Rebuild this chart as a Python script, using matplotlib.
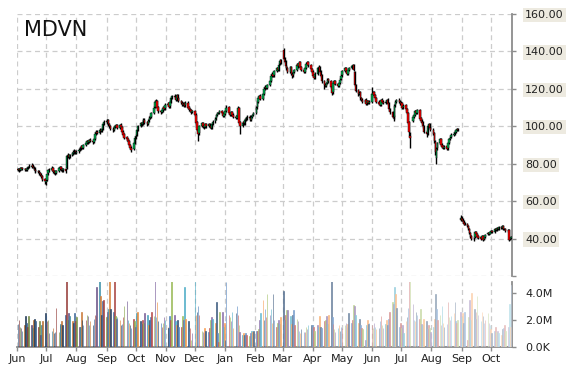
import matplotlib
matplotlib.use('Agg')
import matplotlib.pyplot as plt
import matplotlib.dates as mdates
from matplotlib.colors import to_rgb
import numpy as np
import pandas as pd

plt.rcParams['font.family'] = ['DejaVu Sans']

# ------------------------------------------------------------
# Daily OHLC (USD) and volume (millions), Jun 2014 - Oct 2015
# one line per month
# ------------------------------------------------------------
opens = [
    77.0, 76.4, 77.2, 76.9, 77.6, 77.3, 77.1, 76.7, 77.6, 78.2, 78.4, 79.1, 78.0, 77.4, 76.6, 76.2, 75.6, 75.2, 74.1, 73.2, 71.8,
    70.2, 71.2, 74.8, 76.8, 76.4, 77.6, 76.2, 75.8, 75.2, 76.2, 77.6, 78.2, 77.2, 76.4, 77.2, 77.5, 84.2, 84.6, 83.6, 84.6, 85.6, 86.2, 86.8,
    85.8, 86.6, 87.8, 88.2, 89.2, 88.6, 90.2, 91.2, 92.2, 91.6, 92.8, 92.2, 91.6, 93.2, 96.2, 97.2, 96.6, 98.2, 97.6, 98.8, 101.2,
    102.8, 102.2, 103.2, 101.2, 100.2, 98.8, 98.2, 99.6, 100.2, 100.6, 99.2, 100.8, 99.6, 97.2, 95.8, 94.2, 93.2, 92.2, 90.2, 88.6, 87.8, 91.2,
    94.2, 95.2, 98.2, 100.2, 101.6, 101.2, 102.6, 103.6, 102.2, 101.2, 103.2, 104.6, 105.2, 107.2, 110.2, 113.2, 113.6, 110.2, 108.2, 107.6, 108.6, 110.2, 109.6,
    111.6, 112.2, 110.6, 113.2, 115.2, 116.2, 115.6, 114.2, 116.6, 115.2, 113.6, 112.6, 111.6, 112.2, 111.2, 112.6, 110.2, 109.2, 108.6, 107.6,
    108.2, 106.2, 102.2, 98.2, 96.2, 100.2, 101.6, 100.2, 99.6, 101.2, 100.2, 101.2, 100.2, 99.2, 101.2, 102.6, 104.2, 106.2, 107.2, 107.2, 108.2, 107.2, 105.6,
    106.6, 108.2, 110.2, 107.2, 106.2, 107.6, 106.2, 105.2, 104.6, 105.6, 109.8, 102.2, 100.2, 102.2, 101.6, 103.6, 104.2, 105.2, 104.6, 103.6, 105.2, 106.2,
    107.2, 110.2, 113.2, 115.2, 116.2, 114.6, 117.2, 120.2, 121.2, 120.6, 122.2, 124.2, 127.2, 128.2, 127.2, 129.6, 131.2, 130.2, 133.2, 135.2,
    140.5, 136.2, 134.6, 132.2, 131.2, 129.2, 131.6, 128.2, 127.2, 129.2, 130.2, 133.2, 132.2, 134.2, 131.6, 130.2, 129.2, 131.2, 133.6, 134.2, 132.6, 130.6,
    129.2, 127.2, 126.2, 128.2, 131.2, 131.6, 129.2, 127.2, 124.2, 122.2, 121.6, 123.2, 125.2, 124.2, 121.2, 118.2, 123.2, 124.2, 122.6, 121.6, 123.2, 125.2,
    127.2, 129.6, 131.2, 129.6, 128.2, 130.2, 131.2, 132.2, 132.6, 129.0, 121.8, 119.2, 117.2, 118.2, 115.2, 114.2, 113.2, 114.2, 112.2, 113.6, 112.6,
    113.2, 117.2, 118.2, 116.6, 115.2, 113.2, 112.2, 111.6, 114.2, 113.2, 112.6, 113.2, 114.2, 112.2, 109.2, 107.6, 105.2, 104.8, 111.2, 113.2, 114.2, 113.2,
    112.2, 112.2, 110.2, 111.2, 109.2, 107.2, 102.2, 95.0, 103.0, 105.2, 106.2, 108.2, 107.2, 108.6, 104.2, 103.2, 102.2, 100.2, 97.2, 96.2, 100.2, 101.2, 99.2,
    98.2, 96.2, 91.8, 83.0, 88.2, 91.2, 93.2, 90.2, 89.2, 88.6, 89.2, 88.2, 91.2, 93.2, 94.2, 95.6, 96.2, 97.2, 98.2, 98.6, 50.0,
    51.2, 50.2, 49.6, 48.2, 47.6, 46.6, 45.2, 43.2, 41.2, 40.1, 40.6, 43.6, 42.6, 41.2, 40.6, 40.1, 41.6, 39.6, 40.6, 42.2, 43.2, 42.6,
    43.6, 44.2, 43.6, 45.2, 44.6, 45.6, 45.2, 46.2, 45.6, 46.6, 45.2, 45.1, 44.1, 44.6, 39.6, 40.1,
]
highs = [
    77.8, 77.6, 78.0, 78.3, 78.1, 77.9, 77.6, 78.2, 78.9, 79.6, 80.5, 79.8, 78.7, 78.0, 77.2, 76.9, 76.4, 75.8, 74.8, 73.9, 72.4,
    71.8, 75.2, 77.4, 77.6, 78.8, 78.1, 76.9, 76.5, 76.8, 78.3, 79.0, 78.7, 77.8, 77.9, 77.7, 84.9, 85.6, 85.2, 85.4, 86.4, 87.1, 87.6, 87.5,
    87.4, 88.3, 89.0, 89.8, 89.9, 90.8, 91.9, 92.9, 92.8, 93.4, 93.6, 92.9, 93.8, 96.9, 97.9, 97.9, 98.9, 98.8, 99.4, 101.8, 103.6,
    103.8, 104.1, 103.9, 102.0, 100.9, 99.6, 100.3, 100.9, 101.4, 101.3, 101.4, 101.6, 100.2, 97.9, 96.5, 94.9, 93.9, 92.8, 90.8, 89.3, 91.8, 94.9,
    95.9, 98.8, 100.9, 102.3, 102.4, 103.3, 104.4, 104.3, 102.9, 103.8, 105.3, 105.9, 107.8, 110.9, 113.9, 114.6, 114.3, 110.8, 108.9, 109.3, 110.8, 110.9, 112.3,
    113.0, 112.9, 113.8, 115.9, 116.9, 117.0, 116.3, 117.3, 117.4, 115.9, 114.3, 113.3, 112.8, 112.9, 113.3, 113.3, 110.9, 109.9, 109.3, 108.8,
    108.9, 106.9, 102.9, 98.9, 100.8, 102.3, 102.3, 100.9, 101.8, 101.9, 101.8, 101.9, 100.9, 101.8, 103.3, 104.8, 106.8, 107.8, 107.9, 108.8, 108.9, 107.9, 107.3,
    108.8, 111.3, 110.9, 107.9, 108.3, 108.3, 106.9, 105.9, 106.3, 110.8, 110.5, 102.9, 102.8, 102.9, 104.3, 104.8, 105.8, 105.9, 105.3, 105.8, 106.8, 107.8,
    110.8, 113.8, 115.9, 116.9, 117.0, 117.8, 120.9, 121.9, 121.9, 122.8, 124.9, 127.9, 128.9, 128.9, 130.3, 131.9, 131.9, 133.9, 135.9, 136.1,
    142.0, 137.0, 135.4, 133.0, 131.9, 132.3, 132.3, 128.9, 129.8, 130.8, 133.8, 133.9, 134.8, 134.9, 132.3, 130.9, 131.8, 134.3, 134.8, 134.9, 133.3, 131.3,
    129.9, 127.9, 128.8, 131.8, 132.5, 132.3, 129.9, 127.9, 124.9, 122.9, 123.8, 125.8, 125.9, 124.9, 121.9, 123.8, 124.8, 124.9, 123.3, 123.8, 125.8, 127.8,
    130.3, 131.8, 131.9, 130.3, 130.8, 131.8, 132.8, 133.3, 133.3, 129.8, 122.5, 119.9, 118.8, 118.9, 115.9, 114.9, 114.8, 114.9, 114.3, 114.3, 113.8,
    121.0, 118.9, 118.9, 117.3, 115.9, 113.9, 112.9, 114.8, 114.9, 113.9, 113.8, 114.8, 114.9, 112.9, 109.9, 108.3, 105.9, 111.8, 113.8, 114.8, 114.9, 113.9,
    113.3, 112.9, 111.8, 111.9, 109.9, 107.9, 102.9, 97.0, 105.8, 106.8, 108.8, 108.9, 109.3, 109.3, 104.9, 103.9, 102.9, 100.9, 97.9, 100.8, 101.8, 101.9, 99.9,
    98.9, 96.9, 92.5, 88.8, 91.8, 93.8, 93.9, 90.9, 89.9, 89.8, 89.9, 91.8, 93.8, 94.8, 96.3, 96.8, 97.8, 98.8, 99.3, 99.3, 52.8,
    52.0, 50.8, 50.1, 48.7, 48.1, 47.1, 45.7, 43.7, 41.7, 41.0, 44.3, 44.0, 43.1, 41.7, 41.1, 42.0, 42.1, 41.0, 42.5, 43.5, 43.7, 44.0,
    44.5, 44.7, 45.5, 45.7, 46.0, 46.1, 46.5, 46.7, 47.0, 47.1, 45.7, 45.6, 45.0, 45.1, 40.5, 41.5,
]
lows = [
    75.9, 75.8, 76.2, 76.4, 76.6, 76.3, 75.9, 76.2, 77.0, 77.6, 77.9, 77.5, 76.8, 75.8, 75.1, 74.8, 74.2, 73.3, 72.1, 70.6, 69.2,
    68.8, 70.6, 74.1, 75.8, 75.9, 75.2, 74.6, 73.9, 74.6, 75.7, 76.8, 76.2, 75.4, 75.8, 75.1, 77.0, 83.2, 82.7, 83.0, 84.0, 84.9, 85.4, 85.1,
    85.1, 85.9, 87.0, 87.5, 87.7, 88.0, 89.6, 90.5, 90.8, 91.0, 91.4, 90.8, 91.0, 92.6, 95.5, 95.8, 96.0, 96.8, 97.0, 98.2, 100.6,
    101.7, 101.4, 100.3, 99.2, 97.8, 97.2, 97.6, 98.9, 99.5, 98.3, 98.6, 98.8, 96.3, 94.8, 93.2, 92.2, 91.2, 89.3, 87.6, 86.5, 87.1, 90.5,
    93.3, 94.6, 97.5, 99.5, 100.3, 100.5, 101.9, 101.3, 100.2, 100.6, 102.5, 103.9, 104.6, 106.5, 109.6, 112.4, 109.2, 107.2, 106.8, 106.9, 107.9, 108.8, 108.9,
    110.8, 109.7, 109.9, 112.5, 114.5, 114.8, 113.3, 113.5, 114.2, 112.8, 111.8, 110.8, 110.9, 110.3, 110.5, 109.2, 108.3, 107.7, 106.8, 106.9,
    105.3, 101.3, 97.3, 92.0, 95.5, 99.5, 99.3, 98.8, 98.9, 99.3, 99.5, 99.3, 98.3, 98.5, 100.5, 101.9, 103.5, 105.5, 106.3, 106.5, 106.3, 104.8, 104.9,
    105.9, 107.5, 106.3, 105.3, 105.5, 105.3, 104.3, 103.8, 103.9, 105.0, 101.3, 96.0, 99.5, 100.8, 100.9, 102.9, 103.5, 103.8, 102.8, 102.9, 104.5, 105.5,
    106.5, 109.5, 112.5, 114.5, 113.8, 113.9, 116.5, 119.5, 119.8, 119.9, 121.5, 123.5, 126.5, 126.3, 126.5, 128.9, 129.3, 129.5, 132.5, 133.3,
    135.3, 133.8, 131.3, 130.3, 128.3, 128.5, 127.3, 126.0, 126.5, 128.5, 129.5, 131.3, 131.5, 130.8, 129.3, 128.3, 128.5, 130.5, 133.0, 131.8, 129.8, 128.3,
    126.3, 125.3, 125.5, 127.5, 130.5, 128.3, 126.3, 123.3, 120.0, 120.8, 120.9, 122.5, 123.3, 120.3, 116.5, 117.5, 122.5, 121.8, 120.8, 120.9, 122.5, 124.5,
    126.5, 128.9, 128.8, 127.3, 127.5, 129.5, 130.5, 131.5, 129.3, 121.3, 118.3, 116.3, 116.5, 114.3, 113.3, 112.3, 112.5, 111.3, 111.5, 111.8, 111.9,
    112.5, 116.5, 115.8, 114.3, 112.3, 111.3, 110.8, 110.9, 112.3, 111.8, 111.9, 112.5, 111.3, 108.3, 106.8, 104.3, 103.0, 104.1, 110.5, 112.5, 112.3, 111.3,
    111.3, 109.3, 109.5, 108.3, 106.3, 101.3, 95.0, 88.5, 102.3, 104.5, 105.5, 106.3, 106.5, 103.3, 102.3, 101.3, 99.3, 96.3, 94.5, 95.5, 99.5, 98.3, 97.3,
    95.3, 91.3, 84.5, 80.0, 87.5, 90.5, 89.3, 88.3, 87.8, 88.0, 87.3, 87.5, 90.5, 92.5, 93.5, 95.0, 95.5, 96.5, 97.5, 97.3, 49.5,
    49.5, 49.0, 47.5, 47.0, 46.0, 44.5, 42.5, 40.5, 39.0, 38.5, 40.2, 42.0, 40.5, 40.0, 39.5, 39.7, 38.5, 39.2, 40.2, 41.8, 42.0, 42.2,
    43.1, 43.0, 43.1, 44.0, 44.1, 44.5, 44.7, 45.0, 45.1, 44.5, 44.5, 43.5, 43.6, 38.5, 39.0, 39.6,
]
closes = [
    76.5, 77.0, 76.8, 77.5, 77.2, 77.0, 76.6, 77.4, 78.0, 78.5, 79.0, 78.2, 77.5, 76.5, 76.0, 75.5, 75.0, 74.0, 73.0, 71.5, 70.5,
    71.0, 74.5, 76.5, 76.5, 77.5, 76.0, 75.5, 75.0, 76.0, 77.5, 78.0, 77.0, 76.5, 77.0, 76.0, 84.0, 84.5, 83.5, 84.5, 85.5, 86.0, 86.5, 86.0,
    86.5, 87.5, 88.0, 89.0, 88.5, 90.0, 91.0, 92.0, 91.5, 92.5, 92.0, 91.5, 93.0, 96.0, 97.0, 96.5, 98.0, 97.5, 98.5, 101.0, 102.5,
    102.5, 103.0, 101.0, 100.0, 98.5, 98.0, 99.5, 100.0, 100.5, 99.0, 100.5, 99.5, 97.0, 95.5, 94.0, 93.0, 92.0, 90.0, 88.5, 87.5, 91.0, 94.0,
    95.0, 98.0, 100.0, 101.5, 101.0, 102.5, 103.5, 102.0, 101.0, 103.0, 104.5, 105.0, 107.0, 110.0, 113.0, 113.5, 110.0, 108.0, 107.5, 108.5, 110.0, 109.5, 111.5,
    112.0, 110.5, 113.0, 115.0, 116.0, 115.5, 114.0, 116.5, 115.0, 113.5, 112.5, 111.5, 112.0, 111.0, 112.5, 110.0, 109.0, 108.5, 107.5, 108.0,
    106.0, 102.0, 98.0, 96.0, 100.0, 101.5, 100.0, 99.5, 101.0, 100.0, 101.0, 100.0, 99.0, 101.0, 102.5, 104.0, 106.0, 107.0, 107.0, 108.0, 107.0, 105.5, 106.5,
    108.0, 110.0, 107.0, 106.0, 107.5, 106.0, 105.0, 104.5, 105.5, 110.0, 102.0, 100.0, 102.0, 101.5, 103.5, 104.0, 105.0, 104.5, 103.5, 105.0, 106.0, 107.0,
    110.0, 113.0, 115.0, 116.0, 114.5, 117.0, 120.0, 121.0, 120.5, 122.0, 124.0, 127.0, 128.0, 127.0, 129.5, 131.0, 130.0, 133.0, 135.0, 134.0,
    136.0, 134.5, 132.0, 131.0, 129.0, 131.5, 128.0, 127.0, 129.0, 130.0, 133.0, 132.0, 134.0, 131.5, 130.0, 129.0, 131.0, 133.5, 134.0, 132.5, 130.5, 129.0,
    127.0, 126.0, 128.0, 131.0, 131.5, 129.0, 127.0, 124.0, 122.0, 121.5, 123.0, 125.0, 124.0, 121.0, 118.0, 123.0, 124.0, 122.5, 121.5, 123.0, 125.0, 127.0,
    129.5, 131.0, 129.5, 128.0, 130.0, 131.0, 132.0, 132.5, 130.0, 122.0, 119.0, 117.0, 118.0, 115.0, 114.0, 113.0, 114.0, 112.0, 113.5, 112.5, 113.0,
    117.0, 118.0, 116.5, 115.0, 113.0, 112.0, 111.5, 114.0, 113.0, 112.5, 113.0, 114.0, 112.0, 109.0, 107.5, 105.0, 104.5, 111.0, 113.0, 114.0, 113.0, 112.0,
    112.0, 110.0, 111.0, 109.0, 107.0, 102.0, 97.0, 93.5, 105.0, 106.0, 108.0, 107.0, 108.5, 104.0, 103.0, 102.0, 100.0, 97.0, 96.0, 100.0, 101.0, 99.0, 98.0,
    96.0, 92.0, 86.0, 88.0, 91.0, 93.0, 90.0, 89.0, 88.5, 89.0, 88.0, 91.0, 93.0, 94.0, 95.5, 96.0, 97.0, 98.0, 98.5, 98.0, 51.0,
    50.0, 49.5, 48.0, 47.5, 46.5, 45.0, 43.0, 41.0, 40.0, 40.5, 43.5, 42.5, 41.0, 40.5, 40.0, 41.5, 39.5, 40.5, 42.0, 43.0, 42.5, 43.5,
    44.0, 43.5, 45.0, 44.5, 45.5, 45.0, 46.0, 45.5, 46.5, 45.0, 45.0, 44.0, 44.5, 39.5, 40.0, 41.0,
]
volumes = [
    1.7, 2.0, 1.5, 1.4, 1.2, 1.6, 2.3, 1.8, 1.5, 2.3, 1.6, 1.4, 2.0, 2.1, 1.9, 1.5, 1.9, 0.9, 1.6, 1.9, 2.5,
    2.4, 1.9, 2.0, 1.0, 1.2, 1.4, 1.0, 1.1, 2.9, 1.1, 1.6, 1.7, 1.9, 1.6, 2.4, 5.5, 2.0, 2.5, 2.3, 1.9, 1.8, 2.5, 1.9,
    2.2, 1.5, 1.5, 2.6, 2.0, 1.6, 2.0, 2.4, 2.3, 1.6, 1.9, 1.6, 2.1, 2.4, 2.3, 4.4, 5.5, 3.8, 2.4, 3.4, 3.5,
    2.2, 2.6, 2.8, 5.5, 2.8, 2.6, 5.5, 2.3, 2.1, 2.2, 2.0, 1.6, 1.7, 2.2, 3.0, 3.4, 2.0, 1.8, 1.6, 1.4, 2.1, 1.9,
    1.5, 2.5, 2.6, 1.9, 1.7, 2.0, 1.8, 2.5, 2.4, 1.6, 2.0, 2.2, 2.6, 2.3, 5.5, 2.2, 3.3, 1.9, 1.8, 1.5, 1.8, 2.2, 2.0,
    1.5, 1.4, 2.3, 2.0, 5.5, 2.4, 1.9, 1.6, 2.0, 1.5, 1.5, 2.3, 2.0, 4.4, 2.1, 1.9, 1.2, 1.4, 0.5, 1.0,
    5.5, 2.4, 2.6, 3.0, 2.4, 1.2, 1.1, 1.0, 1.4, 1.2, 1.1, 1.4, 2.0, 2.2, 2.1, 1.8, 3.3, 1.0, 0.4, 2.6, 2.6, 1.5, 1.8,
    0.5, 4.8, 2.4, 2.2, 1.9, 2.6, 1.4, 2.5, 3.0, 2.4, 1.6, 1.1, 0.9, 1.0, 0.9, 1.0, 0.9, 0.8, 1.0, 1.2, 1.1, 1.2,
    1.2, 1.2, 1.3, 2.0, 2.5, 3.5, 2.0, 2.8, 2.2, 3.9, 2.4, 2.8, 1.8, 3.9, 2.0, 1.5, 1.8, 2.0, 1.7, 2.2,
    4.1, 2.0, 2.4, 2.7, 2.7, 2.3, 1.7, 2.4, 2.7, 1.6, 2.1, 1.9, 1.2, 1.0, 1.3, 1.1, 1.1, 1.5, 1.3, 1.6, 1.5, 1.6,
    1.6, 1.5, 1.2, 1.6, 1.5, 2.3, 1.5, 1.4, 1.9, 2.0, 2.3, 1.7, 2.4, 5.5, 2.2, 1.7, 1.3, 1.1, 1.4, 1.6, 1.2, 1.5,
    1.4, 1.6, 1.8, 1.5, 1.7, 2.5, 1.8, 2.0, 3.1, 3.0, 2.4, 1.8, 2.1, 1.6, 1.4, 1.3, 0.5, 1.6, 2.0, 1.7, 1.8,
    1.6, 1.4, 1.8, 1.5, 1.3, 1.4, 1.9, 2.3, 1.6, 1.4, 1.7, 2.0, 1.6, 2.1, 2.6, 3.3, 3.2, 4.4, 3.9, 2.9, 1.5, 1.8,
    1.4, 1.6, 1.0, 1.9, 2.2, 2.9, 5.5, 5.5, 3.2, 2.0, 1.9, 2.6, 2.4, 2.1, 2.8, 1.7, 1.6, 2.1, 1.9, 1.3, 1.6, 1.4, 1.1,
    1.5, 2.1, 3.9, 2.8, 2.0, 2.4, 1.6, 3.0, 1.8, 1.5, 1.7, 3.3, 2.2, 2.0, 2.3, 2.5, 3.3, 1.9, 1.8, 2.0, 2.6,
    2.2, 2.5, 1.8, 2.6, 0.5, 2.2, 3.5, 2.0, 4.0, 2.8, 2.1, 2.6, 3.8, 2.4, 1.9, 2.6, 2.3, 1.8, 2.0, 2.5, 1.8, 1.6,
    1.3, 1.0, 1.2, 1.5, 1.1, 1.2, 1.0, 0.9, 1.3, 1.4, 1.6, 1.2, 1.5, 3.2, 1.5, 4.6,
]
dates = pd.bdate_range('2014-06-02', '2015-10-22')

price_ticks = [20, 40, 60, 80, 100, 120, 140, 160]
volume_ticks = [0, 2, 4]
volume_tick_labels = ['0.0K', '2.0M', '4.0M']
vol_palette = ['#4F81BD', '#C0504D', '#9BBB59', '#8064A2', '#4BACC6', '#F79646', '#2C4D75']

# ------------------------------------------------------------
df = pd.DataFrame({'open': opens, 'high': highs, 'low': lows,
                   'close': closes, 'volume': volumes}, index=dates)
x = mdates.date2num(df.index.to_pydatetime())
up = df['close'] >= df['open']

W, H = 570, 370
fig = plt.figure(figsize=(W / 100, H / 100), dpi=100)
ax = fig.add_axes([17 / W, 1 - 276 / H, 495 / W, 262 / H])
axv = fig.add_axes([17 / W, 1 - 347 / H, 495 / W, 65 / H], sharex=ax)

grid_kw = dict(color='#cccccc', linestyle=(0, (4, 3)), linewidth=0.9)

# candles
ax.vlines(x, df['low'], df['high'], color='black', linewidth=1.0, zorder=3)
body_colors = np.where(up, '#00b050', '#ff0000')
ax.bar(x, (df['close'] - df['open']).values, bottom=df['open'].values, width=1.6,
       color=body_colors, edgecolor='black', linewidth=0.3, zorder=4)

# volume bars, palette that fades over time
def shade(c, s):
    rgb = np.array(to_rgb(c))
    return tuple(rgb * (1 + s)) if s < 0 else tuple(rgb + (1 - rgb) * s)

n = len(df)
vcols = [shade(vol_palette[i % len(vol_palette)], -0.3 + 0.95 * i / (n - 1)) for i in range(n)]
axv.bar(x, df['volume'].values, width=0.6, color=vcols, edgecolor=vcols,
        linewidth=0.45, zorder=3)

# axes styling
x0 = mdates.date2num(pd.Timestamp('2014-06-01'))
x1 = mdates.date2num(pd.Timestamp('2015-10-22')) + 0.8
ax.set_xlim(x0, x1)
ax.set_ylim(20, 160)
axv.set_ylim(0, 4.8)

for a in (ax, axv):
    for s in ('left', 'top', 'bottom'):
        a.spines[s].set_visible(False)
    a.spines['right'].set_color('#8c8c8c')
    a.spines['right'].set_linewidth(1.3)
    a.yaxis.tick_right()
    a.tick_params(axis='y', colors='#8c8c8c', length=3, width=1, pad=6.5,
                  labelcolor='#222222', labelsize=8)
    a.xaxis.set_major_locator(mdates.MonthLocator())
    a.grid(axis='x', **grid_kw)
    a.set_axisbelow(True)

ax.set_yticks(price_ticks)
ax.set_yticklabels(['' if v == 20 else '%.2f' % v for v in price_ticks])
ax.grid(axis='y', **grid_kw)
for lbl in ax.get_yticklabels():
    lbl.set_bbox(dict(facecolor='#edeae0', edgecolor='none', pad=1.5))
ax.tick_params(axis='x', length=0, labelbottom=False)

axv.set_yticks(volume_ticks)
axv.set_yticklabels(volume_tick_labels)
axv.spines['bottom'].set_visible(True)
axv.spines['bottom'].set_color('#8c8c8c')
axv.spines['bottom'].set_linewidth(1.3)
axv.xaxis.set_major_formatter(mdates.DateFormatter('%b'))
axv.tick_params(axis='x', colors='#8c8c8c', length=3, width=1, pad=2,
                labelcolor='#222222', labelsize=8)

ax.text(0.014, 0.938, 'MDVN', transform=ax.transAxes, fontsize=15,
        va='center', ha='left', color='#111111')

fig.savefig('out.png', dpi=100, facecolor='white')
